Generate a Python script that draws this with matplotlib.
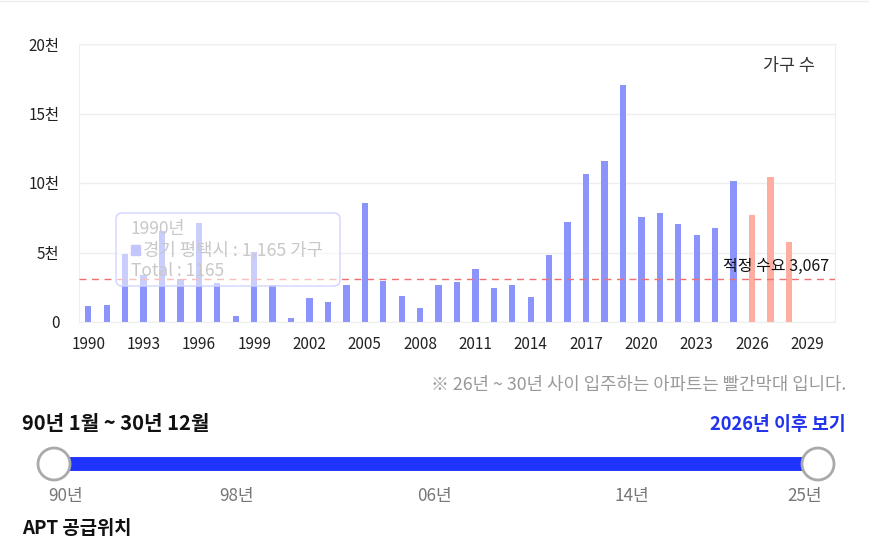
import matplotlib
matplotlib.use("Agg")
import matplotlib.pyplot as plt
import numpy as np
from matplotlib.patches import FancyBboxPatch, Circle, Rectangle

plt.rcParams['font.family'] = ['Noto Sans CJK KR', 'DejaVu Sans']

# data
years = list(range(1990, 2031))
supply = [1165, 1190, 4900, 3370, 6560, 3080, 7090, 2840, 410, 5020,
          2670, 290, 1760, 1420, 2670, 8530, 2980, 1850, 1030, 2670,
          2860, 3800, 2450, 2670, 1830, 4810, 7190, 10670, 11590, 17020,
          7570, 7810, 7070, 6250, 6760, 10150, 7690, 10460, 5750, 0, 0]
future_from = 2026
demand = 3067
y_ticks = [0, 5000, 10000, 15000, 20000]
y_tick_labels = ['0', '5천', '10천', '15천', '20천']
slider_labels = ['90년', '98년', '06년', '14년', '25년']

blue = '#8a94fb'
salmon = '#ffada0'

fig = plt.figure(figsize=(8.7, 5.41), dpi=100)
ax = fig.add_axes([79/870, 1-322/541, (835-79)/870, (322-44)/541])

x = np.arange(len(years))
colors = [salmon if y >= future_from else blue for y in years]
ax.bar(x, supply, width=0.34, color=colors, zorder=2)
ax.axhline(demand, color='#f07070', lw=1, ls=(0, (5, 4)), zorder=3)

ax.set_xlim(-0.5, len(years) - 0.5)
ax.set_ylim(0, 20000)
ax.set_yticks(y_ticks)
ax.set_yticklabels(y_tick_labels)
tick_idx = [i for i, y in enumerate(years) if (y - 1990) % 3 == 0]
ax.set_xticks(tick_idx)
ax.set_xticklabels([str(years[i]) for i in tick_idx])
ax.tick_params(length=0, labelsize=11, colors='#222222')
ax.tick_params(axis='x', pad=10)
ax.tick_params(axis='y', pad=14)
ax.grid(axis='y', color='#eeeeee', lw=1, zorder=0)
for s in ax.spines.values():
    s.set_color('#eeeeee')

ax.text(0.9735, 0.955, '가구 수', transform=ax.transAxes, ha='right', va='top',
        fontsize=12.5, color='#333333')
ax.text(len(years) - 0.8, demand + 350, f'적정 수요 {demand:,}', ha='right',
        va='bottom', fontsize=11.5, color='#111111', zorder=4)

# overlay in pixel coordinates
ov = fig.add_axes([0, 0, 1, 1], zorder=5)
ov.set_xlim(0, 870)
ov.set_ylim(541, 0)
ov.axis('off')
ov.patch.set_alpha(0)

ov.plot([0, 870], [1, 1], color='#eeeeee', lw=1)

# faded tooltip
ov.add_patch(FancyBboxPatch((116, 213), 224, 73, boxstyle='round,pad=0,rounding_size=6',
                            facecolor='white', alpha=0.55, edgecolor='none'))
ov.add_patch(FancyBboxPatch((116, 213), 224, 73, boxstyle='round,pad=0,rounding_size=6',
                            facecolor='none', edgecolor='#d0d4ff', lw=1))
tip_c = '#c8c8c8'
ov.text(131, 229, f'{years[0]}년', fontsize=12.5, color=tip_c, va='center')
ov.add_patch(Rectangle((131, 245), 9, 10, color='#c2c6fd'))
ov.text(143, 250, f'경기 평택시 : {supply[0]:,} 가구', fontsize=12.8, color=tip_c, va='center')
ov.text(131, 271, f'Total : {supply[0]}', fontsize=12.5, color=tip_c, va='center')

ov.text(846, 385, '※ 26년 ~ 30년 사이 입주하는 아파트는 빨간막대 입니다.', ha='right',
        va='center', fontsize=12.8, color='#999999')
ov.text(22, 424, '90년 1월 ~ 30년 12월', ha='left', va='center', fontsize=14.5,
        fontweight='bold', color='#111111')
ov.text(846, 424, '2026년 이후 보기', ha='right', va='center', fontsize=13.2,
        fontweight='bold', color='#2233ee')

# slider
ov.plot([54, 818], [464, 464], color='#1f33ff', lw=10, solid_capstyle='butt')
for cx in (54, 818):
    ov.add_patch(Circle((cx, 464), 16, facecolor='white', edgecolor='#aaaaaa', lw=2, zorder=6))
for lx, lab in zip([66, 237, 435, 632, 805], slider_labels):
    ov.text(lx, 496, lab, ha='center', va='center', fontsize=12.3, color='#777777')

ov.text(22, 538, 'APT 공급위치', ha='left', va='bottom', fontsize=13.5,
        fontweight='bold', color='#111111')

fig.savefig('out.png', dpi=100, facecolor='white')
